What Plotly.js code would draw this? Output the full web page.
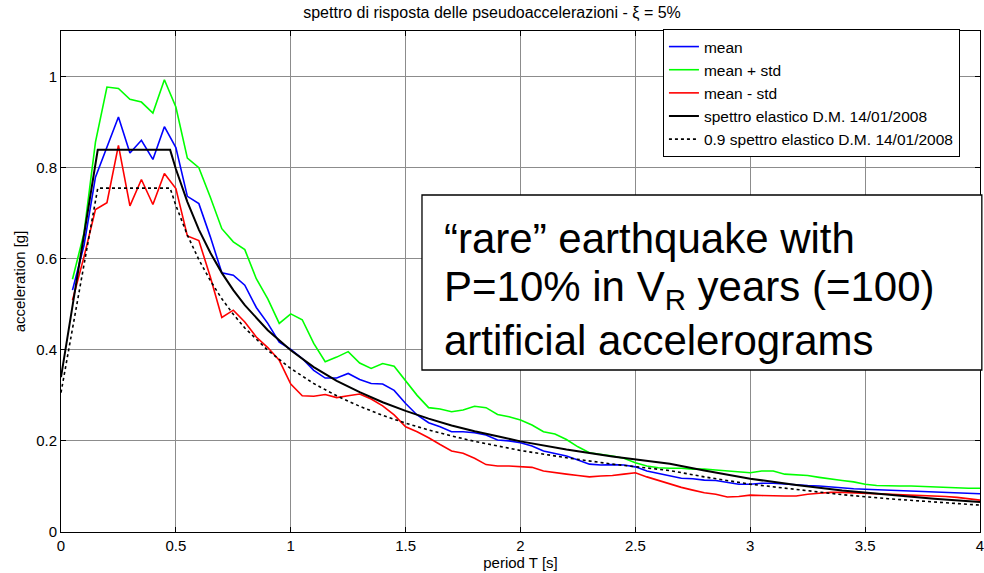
<!DOCTYPE html>
<html>
<head>
<meta charset="utf-8">
<script src="https://cdn.plot.ly/plotly-3.0.1.min.js"></script>
<style>html,body{margin:0;padding:0;background:#fff;}#chart{width:984px;height:573px;}</style>
</head>
<body>
<div id="chart"></div>
<script>
// Period samples of the artificial accelerogram spectra [s]
const periodT = [0.05,0.10,0.15,0.20,0.25,0.30,0.35,0.40,0.45,0.50,
  0.55,0.60,0.65,0.70,0.75,0.80,0.85,0.90,0.95,1.00,
  1.05,1.10,1.15,1.20,1.25,1.30,1.35,1.40,1.45,1.50,
  1.55,1.60,1.65,1.70,1.75,1.80,1.85,1.90,1.95,2.00,
  2.05,2.10,2.15,2.20,2.25,2.30,2.35,2.40,2.45,2.50,
  2.55,2.60,2.65,2.70,2.75,2.80,2.85,2.90,2.95,3.00,
  3.05,3.10,3.15,3.20,3.25,3.30,3.35,3.40,3.45,3.50,
  3.55,3.60,3.65,3.70,3.75,3.80,3.85,3.90,3.95,4.00];

const meanVals = [0.531,0.629,0.779,0.845,0.911,0.832,0.860,0.818,0.890,0.844,
  0.737,0.721,0.648,0.569,0.564,0.542,0.493,0.458,0.417,0.401,
  0.381,0.355,0.338,0.338,0.348,0.335,0.326,0.325,0.311,0.282,
  0.257,0.240,0.231,0.220,0.220,0.218,0.213,0.202,0.200,0.196,
  0.189,0.178,0.173,0.167,0.158,0.149,0.147,0.148,0.147,0.143,
  0.134,0.129,0.123,0.118,0.117,0.114,0.113,0.109,0.105,0.105,
  0.107,0.107,0.105,0.103,0.102,0.101,0.099,0.096,0.095,0.094,
  0.093,0.092,0.091,0.090,0.090,0.088,0.087,0.086,0.085,0.084];

const meanPlusStd = [0.555,0.656,0.856,0.977,0.974,0.950,0.944,0.920,0.993,0.933,
  0.821,0.800,0.735,0.666,0.637,0.620,0.556,0.512,0.458,0.479,
  0.466,0.414,0.374,0.384,0.396,0.371,0.359,0.370,0.364,0.332,
  0.300,0.273,0.270,0.264,0.268,0.276,0.273,0.258,0.253,0.246,
  0.235,0.220,0.215,0.203,0.187,0.174,0.171,0.167,0.162,0.152,
  0.145,0.141,0.140,0.140,0.138,0.138,0.136,0.134,0.131,0.130,
  0.134,0.134,0.127,0.125,0.124,0.120,0.116,0.113,0.110,0.105,
  0.102,0.101,0.101,0.101,0.100,0.099,0.098,0.096,0.096,0.096];

const meanMinusStd = [0.509,0.604,0.708,0.723,0.849,0.716,0.774,0.719,0.787,0.754,
  0.650,0.640,0.560,0.471,0.487,0.461,0.428,0.405,0.377,0.325,
  0.299,0.298,0.302,0.295,0.299,0.303,0.292,0.277,0.257,0.231,
  0.220,0.207,0.192,0.178,0.173,0.162,0.148,0.145,0.145,0.144,
  0.142,0.134,0.130,0.127,0.124,0.121,0.123,0.124,0.127,0.130,
  0.121,0.113,0.105,0.098,0.092,0.086,0.083,0.077,0.078,0.081,
  0.080,0.079,0.079,0.079,0.083,0.085,0.087,0.087,0.086,0.085,
  0.084,0.083,0.083,0.082,0.081,0.079,0.078,0.076,0.073,0.070];

// Elastic spectrum D.M. 14/01/2008
const specT = [0,0.16,0.475,0.50,0.55,0.60,0.65,0.70,0.75,0.80,0.90,1.0,1.1,1.2,1.3,1.4,1.5,1.6,1.7,1.8,1.9,2.0,2.2,2.4,2.65,2.8,3.0,3.2,3.4,3.6,3.8,4.0];
const specVals = [0.340,0.839,0.839,0.797,0.725,0.664,0.613,0.569,0.531,0.498,0.443,0.399,0.362,0.332,0.307,0.285,0.266,0.249,0.234,0.221,0.210,0.199,0.181,0.166,0.150,0.135,0.117,0.103,0.091,0.082,0.073,0.066];
const spec09Vals = [0.306,0.755,0.755,0.717,0.652,0.598,0.552,0.512,0.478,0.448,0.399,0.359,0.326,0.299,0.276,0.256,0.239,0.224,0.211,0.199,0.189,0.179,0.163,0.149,0.135,0.121,0.105,0.093,0.082,0.073,0.066,0.059];

const xTicks = [0,0.5,1,1.5,2,2.5,3,3.5,4];
const xTickText = ['0','0.5','1','1.5','2','2.5','3','3.5','4'];
const yTicks = [0,0.2,0.4,0.6,0.8,1];
const yTickText = ['0','0.2','0.4','0.6','0.8','1'];

const FONT = 'Liberation Sans, Arial, Helvetica, sans-serif';

const traces = [
  {x: periodT, y: meanVals, name: 'mean', mode: 'lines', line: {color: '#0000ff', width: 1.6}},
  {x: periodT, y: meanPlusStd, name: 'mean + std', mode: 'lines', line: {color: '#00ff00', width: 1.6}},
  {x: periodT, y: meanMinusStd, name: 'mean - std', mode: 'lines', line: {color: '#ff0000', width: 1.6}},
  {x: specT, y: specVals, name: 'spettro elastico D.M. 14/01/2008', mode: 'lines', line: {color: '#000000', width: 2}},
  {x: specT, y: spec09Vals, name: '0.9 spettro elastico D.M. 14/01/2008', mode: 'lines', line: {color: '#000000', width: 1.6, dash: 'dot'}}
];

const layout = {
  width: 984, height: 573,
  margin: {l: 61, r: 4, t: 31, b: 41, pad: 0},
  paper_bgcolor: '#ffffff', plot_bgcolor: '#ffffff',
  font: {family: FONT, size: 15, color: '#000'},
  title: {text: 'spettro di risposta delle pseudoaccelerazioni - ξ = 5%', font: {family: FONT, size: 16, color: '#000'}, x: 0.5, xanchor: 'center', y: 0.978, yanchor: 'middle'},
  xaxis: {
    range: [0, 4], tickvals: xTicks, ticktext: xTickText,
    showgrid: true, gridcolor: '#8c8c8c', gridwidth: 1,
    zeroline: false, showline: true, linecolor: '#000', linewidth: 1, mirror: 'ticks',
    ticks: 'inside', ticklen: 5, tickcolor: '#000', ticklabeloverflow: 'allow',
    tickfont: {family: FONT, size: 15},
    title: {text: 'period T [s]', font: {family: FONT, size: 15}, standoff: 2}
  },
  yaxis: {
    range: [0, 1.1], tickvals: yTicks, ticktext: yTickText,
    showgrid: true, gridcolor: '#8c8c8c', gridwidth: 1,
    zeroline: false, showline: true, linecolor: '#000', linewidth: 1, mirror: 'ticks',
    ticks: 'inside', ticklen: 5, tickcolor: '#000',
    tickfont: {family: FONT, size: 15},
    title: {text: 'acceleration [g]', font: {family: FONT, size: 15}, standoff: 6}
  },
  showlegend: true,
  legend: {
    x: 0.655, y: 1.004, xanchor: 'left', yanchor: 'top',
    bgcolor: '#ffffff', bordercolor: '#000', borderwidth: 1,
    font: {family: FONT, size: 15.5}, tracegroupgap: 0, itemwidth: 30
  },
  shapes: [
    {type: 'rect', xref: 'paper', yref: 'paper', x0: 0.3928, x1: 1.002, y0: 0.3234, y1: 0.6727,
     line: {color: '#000', width: 1.3}, fillcolor: '#ffffff', layer: 'above'}
  ],
  annotations: [
    {xref: 'paper', yref: 'paper', x: 0.4150, y: (532-238)/501, xanchor: 'left', yanchor: 'middle', showarrow: false,
     text: '“rare” earthquake with', font: {family: FONT, size: 42, color: '#000'}},
    {xref: 'paper', yref: 'paper', x: 0.4150, y: (532-289)/501, xanchor: 'left', yanchor: 'middle', showarrow: false,
     text: 'P=10% in V<sub>R</sub> years (=100)', font: {family: FONT, size: 42, color: '#000'}},
    {xref: 'paper', yref: 'paper', x: 0.4150, y: (532-340)/501, xanchor: 'left', yanchor: 'middle', showarrow: false,
     text: 'artificial accelerograms', font: {family: FONT, size: 42, color: '#000'}}
  ]
};

Plotly.newPlot('chart', traces, layout, {displayModeBar: false, staticPlot: true});
</script>
</body>
</html>
